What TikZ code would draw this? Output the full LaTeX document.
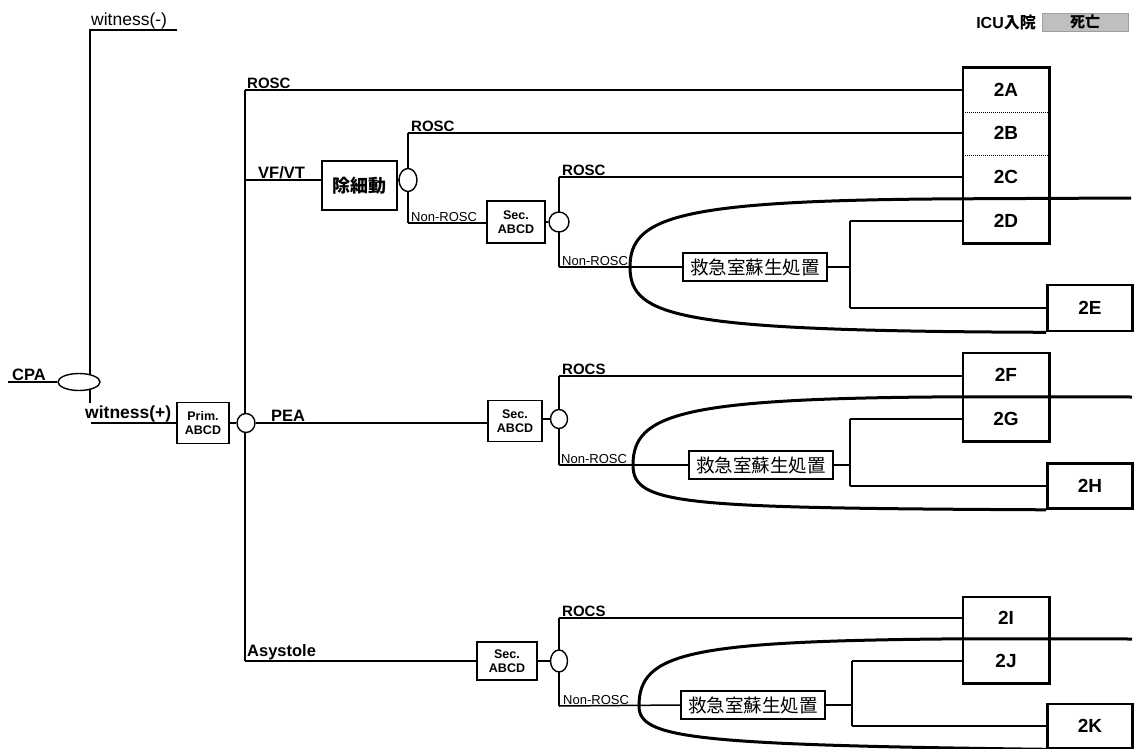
\documentclass[tikz,border=0pt]{standalone}
\usepackage{fontspec}
\setmainfont{Liberation Sans}
\newfontfamily\jpfont{Noto Sans CJK JP}
\usetikzlibrary{shapes.geometric,backgrounds}

\tikzset{
  wire/.style={line width=1.5pt},
  lobe/.style={line width=3pt},
  lbl/.style={font=\fontsize{15}{17}\selectfont\bfseries,inner sep=1pt,anchor=south west},
  sublbl/.style={font=\fontsize{13}{15}\selectfont,inner sep=1pt,anchor=south west},
  proc/.style={draw,line width=1.4pt,fill=white,align=center,inner sep=1pt},
  abcd/.style={proc,font=\fontsize{12.5}{14}\selectfont\bfseries},
  resus/.style={proc,font=\fontsize{18.5}{20}\selectfont\jpfont,minimum width=144,minimum height=28},
  junc/.style={ellipse,draw,line width=1.4pt,fill=white,inner sep=0pt,minimum width=18,minimum height=21},
  outcell/.style={minimum width=86,minimum height=44,inner sep=0pt,font=\fontsize{19}{21}\selectfont\bfseries},
  endbox/.style={outcell,draw,line width=2.6pt,fill=white,minimum width=85},
  grpframe/.style={line width=2.6pt},
  divider/.style={line width=1pt,densely dotted}
}

\begin{document}
\begin{tikzpicture}[x=1pt,y=-1pt]
  \useasboundingbox (0,0) rectangle (1138,749);

  % legend
  \node[font=\fontsize{16}{18}\selectfont\bfseries,anchor=east,inner sep=0pt] (icu) at (1036,22) {ICU{\jpfont 入院}};
  \node[draw=gray!75,fill=gray!50,minimum width=86,minimum height=18,inner sep=0pt,
        font=\fontsize{15}{16}\selectfont\jpfont\bfseries] (death) at (1085,22) {死亡};

  % entry and witness split
  \coordinate (cpaIn) at (8,382);
  \coordinate (wneg) at (90,30);
  \coordinate (wnegEnd) at (177,30);
  \coordinate (wpos) at (91,423);
  \node[junc,minimum width=42,minimum height=17] (cpa) at (79,382) {};
  \node[lbl,font=\fontsize{16.5}{18}\selectfont\bfseries] (lCpa) at ([xshift=3]cpaIn) {CPA};
  \node[sublbl,font=\fontsize{17.5}{19}\selectfont] (lWneg) at (wneg) {witness(-)};
  \node[lbl,font=\fontsize{17.5}{19}\selectfont\bfseries] (lWpos) at ([xshift=-7]wpos) {witness(+)};
  \node[abcd,minimum width=52,minimum height=41] (prim) at (203,423) {Prim.\\ABCD};
  \node[junc,minimum height=19] (j0) at (246,423) {};

  % rhythm branches on the main trunk
  \coordinate (topV) at (245,90);
  \coordinate (vfV) at (245,180);
  \coordinate (botV) at (245,661);
  \node[lbl] (lRosc1) at ([xshift=1]topV) {ROSC};
  \node[lbl,font=\fontsize{16.5}{18}\selectfont\bfseries] (lVf) at ([xshift=12]vfV) {VF/VT};
  \node[lbl,font=\fontsize{16.5}{18}\selectfont\bfseries] (lPea) at ([xshift=24]j0.center) {PEA};
  \node[lbl,font=\fontsize{16.5}{18}\selectfont\bfseries] (lAsys) at ([xshift=1]botV) {Asystole};

  % VF/VT section
  \node[proc,minimum width=75,minimum height=49,font=\fontsize{18}{20}\selectfont\jpfont\bfseries] (defib) at (359.5,185.5) {除細動};
  \node[junc,minimum height=23] (j1) at (408,180) {};
  \coordinate (j1Up) at (408,133);
  \coordinate (j1Dn) at (408,223);
  \node[abcd,minimum width=58,minimum height=42] (secA) at (516,222) {Sec.\\ABCD};
  \node[junc,minimum width=20,minimum height=20] (j2) at (559,222) {};
  \coordinate (j2Up) at (559,177);
  \coordinate (j2Dn) at (559,267);
  \node[resus] (resA) at (755,267) {救急室蘇生処置};
  \coordinate (forkA) at (850,267);
  \coordinate (tipA) at (630,267);
  \coordinate (rimA) at (1131,198);
  \node[lbl] (lRosc2) at ([xshift=2]j1Up) {ROSC};
  \node[sublbl] (lNon1) at ([xshift=2]j1Dn) {Non-ROSC};
  \node[lbl] (lRosc3) at ([xshift=2]j2Up) {ROSC};
  \node[sublbl] (lNon2) at ([xshift=2]j2Dn) {Non-ROSC};

  \node[outcell] (c2A) at (1006,90) {2A};
  \node[outcell] (c2B) at (1006,133) {2B};
  \node[outcell] (c2C) at (1006,177) {2C};
  \node[outcell] (c2D) at (1006,221) {2D};
  \node[endbox,minimum height=46] (c2E) at (1090,308) {2E};
  \draw[grpframe] (c2A.north west) rectangle (c2D.south east);
  \draw[divider] (c2A.south west) -- (c2A.south east);
  \draw[divider] (c2B.south west) -- (c2B.south east);

  % PEA section
  \node[abcd,minimum width=54,minimum height=41] (secB) at (515,421) {Sec.\\ABCD};
  \node[junc,minimum width=17,minimum height=19] (j3) at (559,419) {};
  \coordinate (j3Up) at (559,376);
  \coordinate (j3Dn) at (559,465);
  \node[resus] (resB) at (761,465) {救急室蘇生処置};
  \coordinate (forkB) at (850,465);
  \coordinate (tipB) at (633,465);
  \coordinate (rimB) at (1132,397);
  \node[lbl] (lRocs1) at ([xshift=2]j3Up) {ROCS};
  \node[sublbl] (lNon3) at ([xshift=1]j3Dn) {Non-ROSC};

  \node[outcell] (c2F) at (1006,375) {2F};
  \node[outcell] (c2G) at (1006,419) {2G};
  \node[endbox,minimum height=45] (c2H) at (1090,486) {2H};
  \draw[grpframe] (c2F.north west) rectangle (c2G.south east);

  % Asystole section
  \node[abcd,minimum width=60,minimum height=38] (secC) at (507,661) {Sec.\\ABCD};
  \node[junc,minimum width=17,minimum height=22] (j4) at (559,661) {};
  \coordinate (j4Up) at (559,618);
  \coordinate (j4Dn) at (559,706);
  \node[resus] (resC) at (753,705) {救急室蘇生処置};
  \coordinate (forkC) at (852,705);
  \coordinate (tipC) at (639,706);
  \coordinate (rimC) at (1132,639);
  \node[lbl] (lRocs2) at ([xshift=2]j4Up) {ROCS};
  \node[sublbl] (lNon4) at ([xshift=3]j4Dn) {Non-ROSC};

  \node[outcell,minimum height=42] (c2I) at (1006,618) {2I};
  \node[outcell] (c2J) at (1006,661) {2J};
  \node[endbox] (c2K) at (1090,726) {2K};
  \draw[grpframe] (c2I.north west) rectangle (c2J.south east);

  \begin{scope}[on background layer]
    \fill[white] (0,0) rectangle (1138,749);
    % entry wires
    \draw[wire] (cpaIn) -- (cpa.west);
    \draw[wire] (wnegEnd) -- (wneg) -- (wneg |- cpa);
    \draw[wire] (wneg |- cpa) -- ++(0,21);
    \draw[wire] (wpos) -- (prim.west |- wpos);
    \draw[wire] (prim) -- (j0);
    \draw[wire] (topV) -- (botV);
    \draw[wire] (topV) -- (topV -| c2A.west);
    % VF/VT wires
    \draw[wire] (vfV) -- (vfV -| defib.west);
    \draw[wire] (defib.east |- j1) -- (j1);
    \draw[wire] (j1Up) -- (j1Dn);
    \draw[wire] (j1Up) -- (j1Up -| c2B.west);
    \draw[wire] (j1Dn) -- (j1Dn -| secA.west);
    \draw[wire] (secA) -- (j2);
    \draw[wire] (j2Up) -- (j2Dn);
    \draw[wire] (j2Up) -- (j2Up -| c2C.west);
    \draw[wire] (j2Dn) -- (resA.west);
    \draw[wire] (resA.east) -- (forkA);
    \draw[wire] (c2D.west -| forkA) -- (c2E.west -| forkA);
    \draw[wire] (c2D.west -| forkA) -- (c2D.west);
    \draw[wire] (c2E.west -| forkA) -- (c2E.west);
    % PEA wires
    \draw[wire] (j0) -- (j0 -| secB.west);
    \draw[wire] (secB.east |- j3) -- (j3);
    \draw[wire] (j3Up) -- (j3Dn);
    \draw[wire] (j3Up) -- (j3Up -| c2F.west);
    \draw[wire] (j3Dn) -- (resB.west);
    \draw[wire] (resB.east) -- (forkB);
    \draw[wire] (c2G.west -| forkB) -- (c2H.west -| forkB);
    \draw[wire] (c2G.west -| forkB) -- (c2G.west);
    \draw[wire] (c2H.west -| forkB) -- (c2H.west);
    % Asystole wires
    \draw[wire] (botV) -- (botV -| secC.west);
    \draw[wire] (secC) -- (j4);
    \draw[wire] (j4Up) -- (j4Dn);
    \draw[wire] (j4Up) -- (j4Up -| c2I.west);
    \draw[wire] (j4Dn) -- (resC.west);
    \draw[wire] (resC.east) -- (forkC);
    \draw[wire] (c2J.west -| forkC) -- (c2K.west -| forkC);
    \draw[wire] (c2J.west -| forkC) -- (c2J.west);
    \draw[wire] (c2K.west -| forkC) -- (c2K.west);
  \end{scope}

  % ICU / death boundaries
  \draw[lobe] (rimA) -- (c2D.north west) .. controls (680,200) and (630,216) .. (tipA)
    .. controls (630,318) and (680,331) .. (c2E.south west);
  \draw[lobe] (rimB) -- (c2G.north west) .. controls (683,398) and (633,413) .. (tipB)
    .. controls (633,505) and (680,508) .. (c2H.south west);
  \draw[lobe] (rimC) -- (c2J.north west) .. controls (690,641) and (639,652) .. (tipC)
    .. controls (639,738) and (690,745) .. (c2K.south west);
\end{tikzpicture}
\end{document}
